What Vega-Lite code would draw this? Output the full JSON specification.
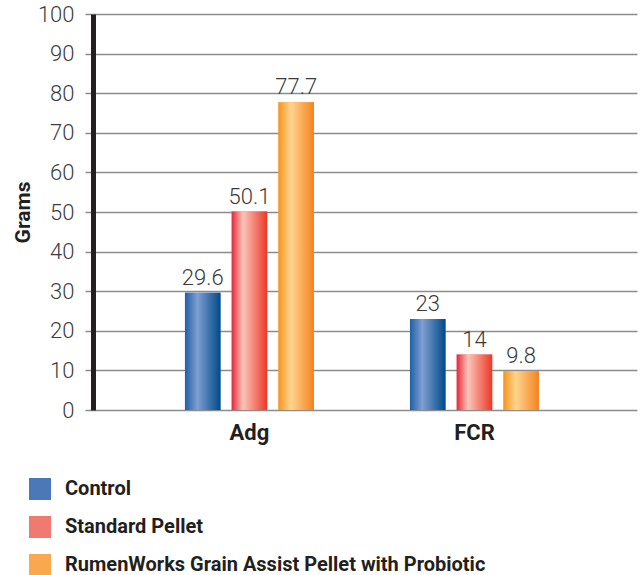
{
  "$schema": "https://vega.github.io/schema/vega-lite/v6.json",
  "width": 544,
  "height": 396,
  "autosize": "none",
  "padding": {"left": 93, "top": 14, "right": 6, "bottom": 165},
  "background": "white",
  "config": {"view": {"stroke": null}, "font": "Roboto"},
  "data": {
    "values": [
      {"metric": "Adg", "series": "Control", "value": 29.6},
      {"metric": "Adg", "series": "Standard Pellet", "value": 50.1},
      {"metric": "Adg", "series": "RumenWorks Grain Assist Pellet with Probiotic", "value": 77.7},
      {"metric": "FCR", "series": "Control", "value": 23},
      {"metric": "FCR", "series": "Standard Pellet", "value": 14},
      {"metric": "FCR", "series": "RumenWorks Grain Assist Pellet with Probiotic", "value": 9.8}
    ]
  },
  "encoding": {
    "x": {
      "field": "metric",
      "type": "nominal",
      "sort": ["Adg", "FCR"],
      "scale": {"paddingInner": 0.4267, "paddingOuter": 0.4222, "align": 0.484},
      "axis": {
        "title": null,
        "ticks": false,
        "domain": false,
        "labelAngle": 0,
        "labelFontSize": 22,
        "labelFontWeight": "bold",
        "labelColor": "#231f20",
        "labelPadding": 12
      }
    },
    "xOffset": {
      "field": "series",
      "type": "nominal",
      "sort": ["Control", "Standard Pellet", "RumenWorks Grain Assist Pellet with Probiotic"],
      "scale": {"domain": ["Control", "Standard Pellet", "RumenWorks Grain Assist Pellet with Probiotic"], "paddingInner": 0.24, "paddingOuter": 0}
    },
    "y": {
      "field": "value",
      "type": "quantitative",
      "scale": {"domain": [0, 100], "nice": false},
      "axis": {
        "title": "Grams",
        "titleFontSize": 21,
        "titleFontWeight": "bold",
        "titleColor": "#231f20",
        "titlePadding": 4,
        "values": [0, 10, 20, 30, 40, 50, 60, 70, 80, 90, 100],
        "labelFontSize": 22,
        "labelFontWeight": 300,
        "labelColor": "#3d3d3d",
        "labelPadding": 11,
        "tickSize": 8,
        "tickColor": "#8c8c8c",
        "tickWidth": 1.5,
        "domainColor": "#231f20",
        "domainWidth": 5,
        "grid": true,
        "gridColor": "#8c8c8c",
        "gridWidth": 1.5
      }
    }
  },
  "layer": [
    {
      "mark": {"type": "bar"},
      "encoding": {
        "color": {
          "field": "series",
          "type": "nominal",
          "sort": ["Control", "Standard Pellet", "RumenWorks Grain Assist Pellet with Probiotic"],
          "scale": {
            "domain": ["Control", "Standard Pellet", "RumenWorks Grain Assist Pellet with Probiotic"],
            "range": ["#4a78b8", "#f07a70", "#f9a850"]
          },
          "legend": {
            "orient": "none",
            "legendX": -64,
            "legendY": 464,
            "title": null,
            "direction": "vertical",
            "symbolType": "square",
            "symbolSize": 484,
            "symbolStrokeWidth": 0,
            "labelFontSize": 20,
            "labelFontWeight": "bold",
            "labelColor": "#231f20",
            "labelOffset": 14,
            "rowPadding": 16,
            "padding": 0,
            "labelLimit": 600,
            "symbolOpacity": 1,
            "encode": {
              "symbols": {
                "update": {
                  "fill": {
                    "value": {
                      "expr": "datum.value === 'Control' ? {gradient: 'linear', x1: 0, y1: 0, x2: 1, y2: 0, stops: [{offset: 0, color: '#1f5fa8'}, {offset: 0.35, color: '#7f9fd0'}, {offset: 1, color: '#004a8a'}]} : datum.value === 'Standard Pellet' ? {gradient: 'linear', x1: 0, y1: 0, x2: 1, y2: 0, stops: [{offset: 0, color: '#e5273a'}, {offset: 0.32, color: '#fbc5b9'}, {offset: 1, color: '#ec3826'}]} : {gradient: 'linear', x1: 0, y1: 0, x2: 1, y2: 0, stops: [{offset: 0, color: '#f7941d'}, {offset: 0.35, color: '#fed58e'}, {offset: 1, color: '#f58220'}]}"
                    }
                  }
                }
              }
            }
          }
        }
      }
    },
    {
      "transform": [{"filter": "datum.series === 'Control'"}],
      "mark": {
        "type": "bar",
        "fill": {"gradient": "linear", "x1": 0, "y1": 0, "x2": 1, "y2": 0, "stops": [{"offset": 0, "color": "#1f5fa8"}, {"offset": 0.35, "color": "#7f9fd0"}, {"offset": 1, "color": "#004a8a"}]}
      }
    },
    {
      "transform": [{"filter": "datum.series === 'Standard Pellet'"}],
      "mark": {
        "type": "bar",
        "fill": {"gradient": "linear", "x1": 0, "y1": 0, "x2": 1, "y2": 0, "stops": [{"offset": 0, "color": "#e5273a"}, {"offset": 0.32, "color": "#fbc5b9"}, {"offset": 1, "color": "#ec3826"}]}
      }
    },
    {
      "transform": [{"filter": "datum.series === 'RumenWorks Grain Assist Pellet with Probiotic'"}],
      "mark": {
        "type": "bar",
        "fill": {"gradient": "linear", "x1": 0, "y1": 0, "x2": 1, "y2": 0, "stops": [{"offset": 0, "color": "#f7941d"}, {"offset": 0.35, "color": "#fed58e"}, {"offset": 1, "color": "#f58220"}]}
      }
    },
    {
      "mark": {"type": "text", "baseline": "alphabetic", "dy": -8, "fontSize": 22, "fontWeight": 300, "color": "#3a3a3a"},
      "encoding": {
        "text": {"field": "value", "type": "quantitative", "format": ".3~g"}
      }
    }
  ]
}
